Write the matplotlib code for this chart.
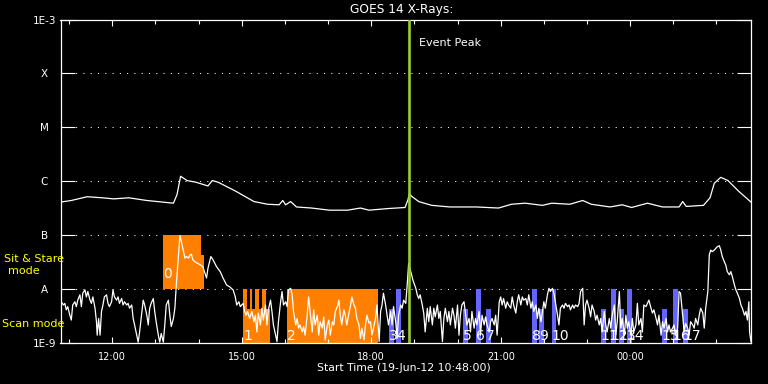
import numpy as np
import pandas as pd
import matplotlib
matplotlib.use('Agg')
import matplotlib.pyplot as plt
import matplotlib.dates as mdates
from matplotlib.ticker import NullLocator

start = pd.Timestamp('2012-06-19 10:48:00')
end = start + pd.Timedelta(hours=16)
event_peak = pd.Timestamp('2012-06-19 18:52:00')

# long channel (1-8 A), minutes after start / log10 flux
upper_t = [0, 15, 37, 58, 74, 95, 120, 157, 162, 167,
           176, 188, 205, 211, 219, 244, 269, 288, 304, 309,
           313, 320, 328, 349, 374, 399, 417, 429, 455, 479,
           483, 485, 488, 498, 516, 541, 578, 609, 627, 646,
           670, 683, 708, 726, 738, 764, 781, 794, 816, 837,
           860, 865, 870, 894, 903, 909, 918, 928, 943, 960]
upper_log = [-6.39, -6.36, -6.29, -6.31, -6.33, -6.31, -6.36, -6.41, -6.25, -5.91,
             -5.99, -6.02, -6.09, -5.99, -6.02, -6.19, -6.38, -6.43, -6.44, -6.36,
             -6.44, -6.38, -6.48, -6.50, -6.54, -6.54, -6.50, -6.54, -6.51, -6.49,
             -6.35, -6.23, -6.28, -6.38, -6.45, -6.48, -6.48, -6.50, -6.43, -6.41,
             -6.45, -6.41, -6.43, -6.36, -6.43, -6.48, -6.44, -6.49, -6.41, -6.48,
             -6.48, -6.38, -6.47, -6.45, -6.31, -6.04, -5.93, -5.99, -6.19, -6.39]

# short channel (0.5-4 A)
lower_t = [1, 4, 6, 8, 10, 13, 15, 17, 20, 22,
           24, 27, 29, 31, 34, 36, 38, 41, 43, 45,
           48, 50, 51, 53, 55, 57, 59, 61, 64, 66,
           68, 71, 73, 75, 78, 80, 82, 85, 87, 89,
           92, 94, 96, 99, 101, 103, 106, 108, 110, 113,
           115, 117, 120, 122, 124, 126, 129, 131, 133, 136,
           138, 140, 143, 145, 147, 150, 152, 154, 157, 159,
           161, 164, 166, 168, 171, 173, 175, 178, 180, 182,
           184, 187, 191, 195, 198, 203, 205, 209, 212, 217,
           222, 226, 231, 235, 240,
           243, 245, 248, 250, 254, 256, 258, 260, 263, 266,
           269, 271, 273, 275, 278, 280, 282, 285, 287, 289,
           292, 294, 296, 299, 301, 303, 306, 308, 310, 313,
           315, 317, 320, 322, 324, 327, 329, 331, 333, 336,
           338, 340, 343, 345, 347, 350, 352, 354, 357, 359,
           361, 364, 366, 368, 371, 373, 375, 378, 380, 382,
           385, 387, 389, 391, 394, 396, 398, 401, 403, 405,
           408, 410, 412, 415, 417, 419, 422, 424, 426, 429,
           431, 433, 436, 438, 440, 443, 445, 447, 449, 452,
           454, 456, 459, 461, 463, 466, 468, 470, 473, 475,
           477, 480,
           482, 484, 487, 490, 494, 496, 498, 500, 503, 505,
           507, 510, 512, 514, 517, 519, 521, 524, 526, 528,
           531, 533, 535, 538, 540, 542, 545, 547, 549, 552,
           554, 556, 558, 561, 563, 565, 568, 570, 572, 575,
           577, 579, 582, 584, 586, 589, 591, 593, 596, 598,
           600, 603, 605, 607, 610, 612, 614, 616, 619, 621,
           623, 626, 628, 630, 633, 635, 637, 640, 642, 644,
           647, 649, 651, 654, 656, 658, 661, 663, 665, 668,
           670, 672, 674, 677, 679, 681, 684, 686, 688, 691,
           693, 695, 698, 700, 702, 705, 707, 709, 712, 714, 716,
           719, 721, 723, 726, 728, 730, 732, 735, 737, 739,
           742, 744, 746, 749, 751, 753, 756, 758, 760, 763,
           765, 767, 770, 772, 774, 777, 779, 781, 784, 786,
           788, 790, 793, 795, 797, 800, 802, 804, 807, 809,
           811, 814, 816, 818, 821, 823, 825, 828, 830, 832,
           835, 837, 839, 842, 844, 846, 848, 851, 853, 855,
           858, 860, 862, 865, 867, 869, 872, 874, 876, 879,
           881, 883, 886, 888, 890, 893, 895, 897, 900, 902,
           904, 906, 909, 911, 913, 916, 918, 920, 923, 925,
           927, 930, 932, 934, 937, 939, 941, 944, 946, 948,
           951, 953, 955, 957, 958, 960]
lower_log = [-8.24, -8.30, -8.27, -8.39, -8.33, -8.49, -8.58, -8.30, -8.24, -8.33,
             -8.21, -8.11, -8.33, -8.08, -8.02, -8.15, -8.05, -8.21, -8.27, -8.15,
             -8.36, -8.61, -8.86, -8.55, -8.86, -8.42, -8.30, -8.15, -8.11, -8.27,
             -8.33, -8.24, -8.02, -8.15, -8.21, -8.15, -8.27, -8.18, -8.30, -8.24,
             -8.30, -8.27, -8.36, -8.30, -8.55, -8.67, -8.86, -8.99, -8.80, -8.45,
             -8.21, -8.30, -8.49, -8.67, -8.36, -8.27, -8.18, -8.42, -8.61, -8.86,
             -8.99, -8.83, -8.99, -8.67, -8.30, -8.21, -8.49, -8.70, -8.55, -8.36,
             -7.93, -7.37, -7.01, -7.12, -7.31, -7.43, -7.40, -7.43, -7.37, -7.36,
             -7.46, -7.50, -7.53, -7.56, -7.59, -7.80, -7.62, -7.40, -7.46, -7.59,
             -7.68, -7.80, -7.93, -7.96, -8.02,
             -8.15, -8.30, -8.24, -8.33, -8.27, -8.42, -8.49, -8.42, -8.55, -8.42,
             -8.61, -8.49, -8.80, -8.45, -8.67, -8.36, -8.58, -8.30, -8.67, -8.39,
             -8.21, -8.42, -8.67, -8.86, -8.98, -8.61, -8.24, -8.05, -8.30, -8.24,
             -8.33, -8.02, -7.99, -8.11, -8.42, -8.67, -8.55, -8.73, -8.67, -8.80,
             -8.70, -8.86, -8.49, -8.15, -8.42, -8.80, -8.39, -8.67, -8.49, -8.86,
             -8.61, -8.73, -8.52, -8.95, -8.67, -8.58, -8.86, -8.61, -8.67, -8.42,
             -8.33, -8.21, -8.49, -8.67, -8.39, -8.49, -8.67, -8.45, -8.33, -8.15,
             -8.30, -8.36, -8.55, -8.67, -8.92, -8.73, -8.95, -8.67, -8.49, -8.64,
             -8.61, -8.86, -8.67, -8.55, -8.30, -8.98, -8.42, -8.30, -8.08, -8.30,
             -8.49, -8.67, -8.42, -8.67, -8.33, -8.61, -8.92, -8.49, -8.30, -8.36,
             -8.21, -8.27,
             -7.93, -7.53, -7.68, -7.84, -7.99, -8.11, -8.18, -8.11, -8.30, -8.45,
             -8.80, -8.36, -8.61, -8.33, -8.67, -8.36, -8.52, -8.30, -8.55, -8.42,
             -8.98, -8.55, -8.36, -8.61, -8.42, -8.67, -8.36, -8.49, -8.73, -8.30,
             -8.86, -8.49, -8.30, -8.24, -8.45, -8.67, -8.55, -8.80, -8.42, -8.73,
             -8.55, -8.67, -8.42, -8.86, -8.49, -8.67, -8.52, -8.67, -8.80, -8.61,
             -8.55, -8.67, -8.49, -8.86, -8.24, -8.15, -8.30, -8.18, -8.36, -8.24,
             -8.30, -8.36, -8.15, -8.30, -8.45, -8.24, -8.11, -8.30, -8.15, -8.21,
             -8.18, -8.30, -8.11, -8.36, -8.24, -8.42, -8.30, -8.55, -8.36, -8.61,
             -8.42, -8.24, -8.36, -8.11, -7.99, -8.05, -7.99, -8.08, -8.24, -8.49,
             -8.67, -8.36, -8.30, -8.36, -8.27, -8.33, -8.30, -8.39, -8.30, -8.36, -8.30,
             -8.33, -8.27, -8.05, -7.99, -8.67, -8.30, -8.21, -8.36, -8.52, -8.30,
             -8.42, -8.58, -8.49, -8.67, -8.55, -8.80, -8.42, -8.67, -8.80, -8.55,
             -8.73, -8.49, -8.30, -8.86, -8.61, -8.05, -8.73, -8.55, -8.86, -8.49,
             -8.73, -8.61, -8.86, -8.55, -8.80, -8.67, -8.27, -8.67, -8.55, -8.80,
             -8.30, -8.33, -8.27, -8.21, -8.36, -8.45, -8.39, -8.55, -8.67, -8.49,
             -8.86, -8.61, -8.73, -8.55, -8.80, -8.67, -8.80, -8.73, -8.67, -8.86,
             -8.73, -8.05, -8.08, -8.49, -8.80, -8.64, -8.73, -8.86, -8.61, -8.67,
             -8.73, -8.55, -8.67, -8.49, -8.36, -8.45, -8.73, -8.36, -8.05, -7.37,
             -7.28, -7.31, -7.28, -7.25, -7.22, -7.20, -7.28, -7.40, -7.50, -7.56,
             -7.68, -7.74, -7.68, -7.77, -7.93, -8.02, -8.08, -8.18, -8.30, -8.36,
             -8.49, -8.42, -8.58, -8.24, -8.80, -8.98]

# observation blocks: start (min after start), length (min), mode, full height?, colour
obs_start = [142, 195, 254, 254, 263, 271, 280, 315,
             457, 467, 559, 577, 591, 655, 665, 683,
             751, 765, 776, 787, 836, 851, 866]
obs_len = [53, 5, 37, 5.6, 3.4, 4.6, 5.5, 126.5,
           6, 7, 7, 7, 7, 7, 7, 6,
           7, 7, 7, 7, 7, 7, 7]
obs_mode = ['stare', 'stare'] + ['scan'] * 21
obs_full = [1, 0, 0, 1, 1, 1, 1, 1,
            0, 1, 0, 1, 0, 1, 0, 1,
            0, 1, 0, 1, 0, 1, 0]
obs_color = ['#ff8000'] * 8 + ['#6464ff'] * 15

# raster numbers
lab_text = [str(i) for i in range(18)]
lab_start = [142, 254, 315, 457, 467, 559, 577, 591, 655, 665, 683,
             751, 765, 776, 787, 836, 851, 866]
lab_mode = ['stare'] + ['scan'] * 17

levels = [1e-9, 1e-8, 1e-7, 1e-6, 1e-5, 1e-4, 1e-3]
level_names = ['1E-9', 'A', 'B', 'C', 'M', 'X', '1E-3']


def to_num(minutes):
    return mdates.date2num(start + pd.to_timedelta(np.asarray(minutes), unit='min'))


band_bottom = {'scan': 1e-9, 'stare': 1e-8}
label_y = {'scan': 10 ** -8.95, 'stare': 10 ** -7.79}

fig = plt.figure(figsize=(7.68, 3.84), dpi=100, facecolor='black')
ax = fig.add_axes([60.5 / 768, 1 - 342.7 / 384, 690.5 / 768, 323.2 / 384])
ax.set_facecolor('black')
ax.set_yscale('log')
ax.set_ylim(1e-9, 1e-3)
ax.set_xlim(mdates.date2num(start), mdates.date2num(end))

for lev in levels[1:-1]:
    ax.axhline(lev, color='white', lw=0.75, ls=(0, (1, 6)), zorder=0.5)

for s, d, m, full, c in zip(obs_start, obs_len, obs_mode, obs_full, obs_color):
    lo = band_bottom[m]
    hi = lo * 10 if full else lo * 10 ** 0.62
    ax.bar(to_num(s), hi - lo, bottom=lo, width=d / 1440, align='edge',
           color=c, linewidth=0, zorder=1)

ax.plot(to_num(upper_t), 10 ** np.array(upper_log), color='white', lw=0.9, zorder=3)
ax.plot(to_num(lower_t), 10 ** np.array(lower_log), color='white', lw=0.9, zorder=3)

for t, s, m in zip(lab_text, lab_start, lab_mode):
    ax.text(to_num(s), label_y[m], t, color='white', fontsize=10,
            ha='left', va='baseline', zorder=4)

ev = mdates.date2num(event_peak)
ax.axvline(ev, color='yellowgreen', lw=1.9, zorder=5)
ax.annotate('Event Peak', xy=(ev, 1), xycoords=('data', 'axes fraction'),
            xytext=(10, -23.5), textcoords='offset pixels',
            ha='left', va='center', color='white', fontsize=8)

ax.set_yticks(levels)
ax.set_yticklabels(level_names)
ax.yaxis.set_minor_locator(NullLocator())
ax.xaxis.set_major_locator(mdates.HourLocator(byhour=range(0, 24, 3)))
ax.xaxis.set_minor_locator(mdates.HourLocator())
ax.xaxis.set_major_formatter(mdates.DateFormatter('%H:%M'))
ax.tick_params(axis='x', which='major', direction='in', top=True, bottom=True,
               length=4.5, width=0.8, colors='white', labelsize=7, pad=6.5)
ax.tick_params(axis='x', which='minor', direction='in', top=True, bottom=True,
               length=2.6, width=0.8, color='white')
ax.tick_params(axis='y', which='major', direction='in', left=True, right=True,
               length=10, width=0.8, colors='white', labelsize=7.5, pad=11.5)
for lab in ax.get_yticklabels():
    lab.set_ha('center')
for sp in ax.spines.values():
    sp.set_color('white')
    sp.set_linewidth(0.9)

fig.text(402 / 768, 1 - 10 / 384, 'GOES 14 X-Rays:', color='white', fontsize=8.8,
         ha='center', va='center')
fig.text(404 / 768, 1 - 368 / 384, 'Start Time (19-Jun-12 10:48:00)', color='white',
         fontsize=7.8, ha='center', va='center')
fig.text(34 / 768, 1 - 259 / 384, 'Sit & Stare', color='#ffff00', fontsize=8,
         ha='center', va='center')
fig.text(24 / 768, 1 - 270.7 / 384, 'mode', color='#ffff00', fontsize=8,
         ha='center', va='center')
fig.text(2 / 768, 1 - 324 / 384, 'Scan mode', color='#ffff00', fontsize=8,
         ha='left', va='center')

fig.savefig('out.png', dpi=100, facecolor='black')
